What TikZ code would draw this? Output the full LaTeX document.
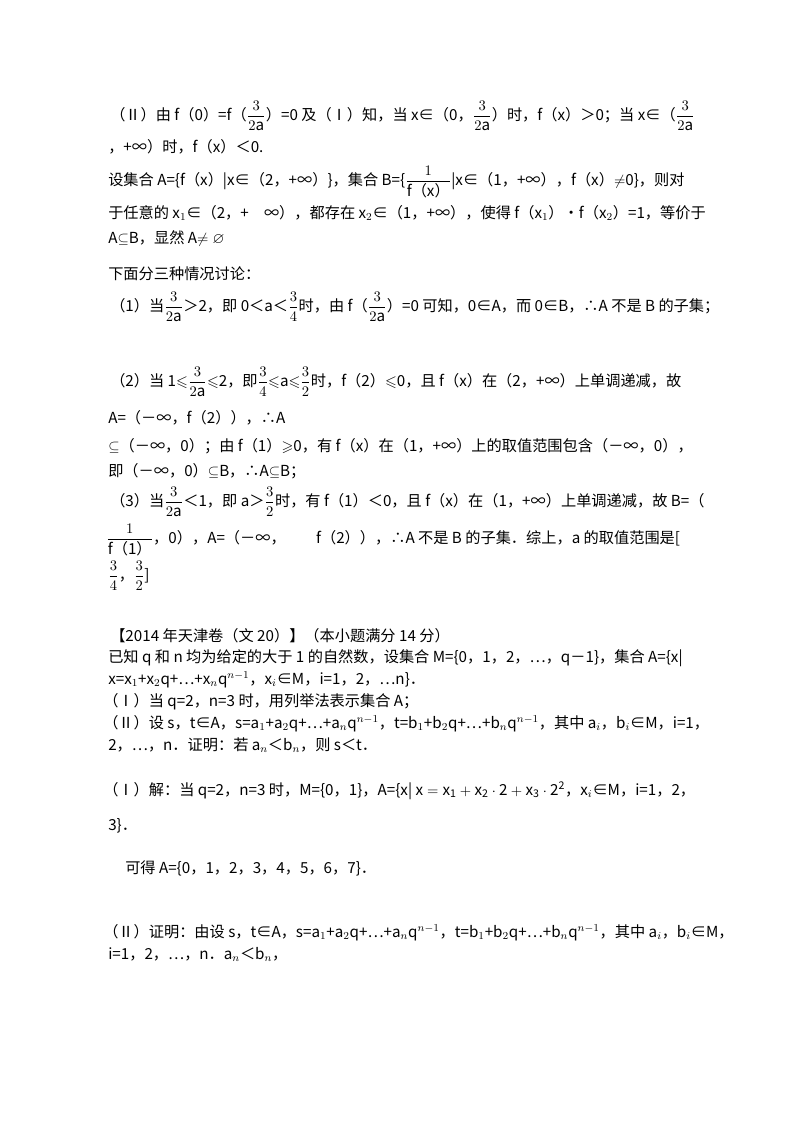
\documentclass[tikz,border=0pt]{standalone}
\usepackage{amsmath,amssymb}
\usepackage{fontspec}
\setmainfont{Noto Sans CJK SC}
\begin{document}
\begin{tikzpicture}[x=0.75pt,y=-0.75pt,
  ln/.style={anchor=base west,inner sep=0pt,font=\fontsize{11.4pt}{13pt}\selectfont}]
\useasboundingbox (0,0) rectangle (800,1132);
\newcommand{\fr}[2]{$\dfrac{#1}{#2}$}
\node[ln] (l1) at (110,120) {（Ⅱ）由 f（0）=f（\fr{3}{2\mathrm{a}}）=0 及（Ⅰ）知，当 x∈（0，\fr{3}{2\mathrm{a}}）时，f（x）＞0；当 x∈（\fr{3}{2\mathrm{a}}};
\node[ln] (l2) at (108,152) {，+∞）时，f（x）＜0.};
\node[ln] (l3) at (108,185) {设集合 A=\{f（x）|x∈（2，+∞）\}，集合 B=\{\fr{1}{\text{f（x）}}|x∈（1，+∞），f（x）$\neq$0\}，则对};
\node[ln] (l4) at (108,218) {于任意的 x$_1$∈（2，+\quad ∞），都存在 x$_2$∈（1，+∞），使得 f（x$_1$）•f（x$_2$）=1，等价于};
\node[ln] (l5) at (108,243) {A$\subseteq$B，显然 A$\neq\varnothing$};
\node[ln] (l6) at (108,279) {下面分三种情况讨论：};
\node[ln] (l7) at (110,311) {（1）当\fr{3}{2\mathrm{a}}＞2，即 0＜a＜\fr{3}{4}时，由 f（\fr{3}{2\mathrm{a}}）=0 可知，0∈A，而 0∈B，∴A 不是 B 的子集；};
\node[ln] (l8) at (110,386) {（2）当 1$\leqslant$\fr{3}{2\mathrm{a}}$\leqslant$2，即\fr{3}{4}$\leqslant$a$\leqslant$\fr{3}{2}时，f（2）$\leqslant$0，且 f（x）在（2，+∞）上单调递减，故};
\node[ln] (l9) at (108,423) {A=（－∞，f（2）），∴A};
\node[ln] (l10) at (108,451) {$\subseteq$（－∞，0）；由 f（1）$\geqslant$0，有 f（x）在（1，+∞）上的取值范围包含（－∞，0），};
\node[ln] (l11) at (108,476) {即（－∞，0）$\subseteq$B，∴A$\subseteq$B；};
\node[ln] (l12) at (110,506) {（3）当\fr{3}{2\mathrm{a}}＜1，即 a＞\fr{3}{2}时，有 f（1）＜0，且 f（x）在（1，+∞）上单调递减，故 B=（};
\node[ln] (l13) at (106,543) {\fr{1}{\text{f（1）}}，0），A=（－∞，\qquad f（2）），∴A 不是 B 的子集．综上，a 的取值范围是[};
\node[ln] (l14) at (108,580) {\fr{3}{4}，\fr{3}{2}]};
\node[ln] (l15) at (110,641) {【2014 年天津卷（文 20）】（本小题满分 14 分）};
\node[ln] (l16) at (108,662) {已知 q 和 n 均为给定的大于 1 的自然数，设集合 M=\{0，1，2，…，q－1\}，集合 A=\{x|};
\node[ln] (l17) at (108,684) {x=x$_1$+x$_2$q+…+x$_n$q$^{n-1}$，x$_i$∈M，i=1，2，…n\}．};
\node[ln] (l18) at (103,706) {（Ⅰ）当 q=2，n=3 时，用列举法表示集合 A；};
\node[ln] (l19) at (103,728) {（Ⅱ）设 s，t∈A，s=a$_1$+a$_2$q+…+a$_n$q$^{n-1}$，t=b$_1$+b$_2$q+…+b$_n$q$^{n-1}$，其中 a$_i$，b$_i$∈M，i=1，};
\node[ln] (l20) at (108,750) {2，…，n．证明：若 a$_n$＜b$_n$，则 s＜t．};
\node[ln] (l21) at (103,795) {（Ⅰ）解：当 q=2，n=3 时，M=\{0，1\}，A=\{x|\ $\mathrm{x=x_1+x_2\cdot2+x_3\cdot2^2}$，x$_i$∈M，i=1，2，};
\node[ln] (l22) at (108,830) {3\}．};
\node[ln] (l23) at (125,873) {可得 A=\{0，1，2，3，4，5，6，7\}．};
\node[ln] (l24) at (103,937) {（Ⅱ）证明：由设 s，t∈A，s=a$_1$+a$_2$q+…+a$_n$q$^{n-1}$，t=b$_1$+b$_2$q+…+b$_n$q$^{n-1}$，其中 a$_i$，b$_i$∈M，};
\node[ln] (l25) at (108,959) {i=1，2，…，n．a$_n$＜b$_n$，};
\end{tikzpicture}
\end{document}
